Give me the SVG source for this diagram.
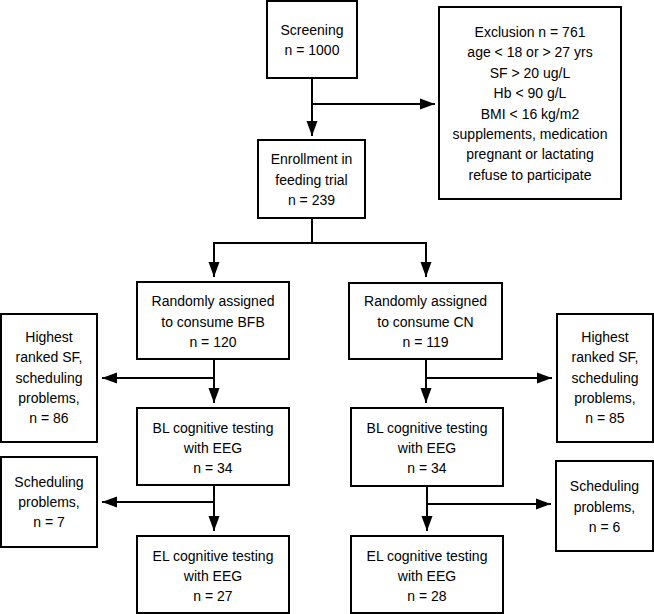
<svg xmlns="http://www.w3.org/2000/svg" width="654" height="614" viewBox="0 0 654 614">
<defs>
<marker id="arr" markerUnits="userSpaceOnUse" markerWidth="16" markerHeight="12" refX="15" refY="6" orient="auto">
<path d="M0,0.5 L15,6 L0,11.5 Z" fill="#000"/>
</marker>
<style>
.box{fill:#fff;stroke:#000;stroke-width:2}
.t{font-family:"Liberation Sans",Arial,sans-serif;font-size:14px;fill:#000;text-anchor:middle}
.c{fill:none;stroke:#000;stroke-width:2}
.a{fill:none;stroke:#000;stroke-width:2;marker-end:url(#arr)}
</style>
</defs>
<rect width="654" height="614" fill="#fff"/>
<g id="connectors">
<line class="a" x1="312" y1="78" x2="312" y2="136"/>
<line class="a" x1="312" y1="104" x2="435" y2="104"/>
<line class="c" x1="312" y1="218" x2="312" y2="243"/>
<polyline class="c" points="214,243 426,243"/>
<line class="a" x1="214" y1="242" x2="214" y2="277"/>
<line class="a" x1="426" y1="242" x2="426" y2="277"/>
<line class="a" x1="214" y1="359" x2="214" y2="403"/>
<line class="a" x1="214" y1="378" x2="102" y2="378"/>
<line class="a" x1="426" y1="359" x2="426" y2="403"/>
<line class="a" x1="426" y1="378" x2="552" y2="378"/>
<line class="a" x1="214" y1="485" x2="214" y2="531"/>
<line class="a" x1="214" y1="502" x2="102" y2="502"/>
<line class="a" x1="427" y1="486" x2="427" y2="531"/>
<line class="a" x1="427" y1="504" x2="551" y2="504"/>
</g>
<g id="screening">
<rect class="box" x="267" y="1" width="90" height="77"/>
<text class="t" x="312" y="35">Screening<tspan x="312" dy="20">n = 1000</tspan></text>
</g>
<g id="exclusion">
<rect class="box" x="439" y="7" width="182" height="192"/>
<text class="t" x="530" y="37">Exclusion n = 761<tspan x="530" dy="20.4">age &lt; 18 or &gt; 27 yrs</tspan><tspan x="530" dy="20.4">SF &gt; 20 ug/L</tspan><tspan x="530" dy="20.4">Hb &lt; 90 g/L</tspan><tspan x="530" dy="20.4">BMI &lt; 16 kg/m2</tspan><tspan x="530" dy="20.4">supplements, medication</tspan><tspan x="530" dy="20.4">pregnant or lactating</tspan><tspan x="530" dy="20.4">refuse to participate</tspan></text>
</g>
<g id="enrollment">
<rect class="box" x="258" y="140" width="107" height="78"/>
<text class="t" x="311.5" y="164">Enrollment in<tspan x="311.5" dy="20.5">feeding trial</tspan><tspan x="311.5" dy="20.5">n = 239</tspan></text>
</g>
<g id="rand-bfb">
<rect class="box" x="137" y="282" width="152" height="77"/>
<text class="t" x="213" y="306">Randomly assigned<tspan x="213" dy="20.5">to consume BFB</tspan><tspan x="213" dy="20.5">n = 120</tspan></text>
</g>
<g id="rand-cn">
<rect class="box" x="349" y="283" width="153" height="76"/>
<text class="t" x="425.5" y="306">Randomly assigned<tspan x="425.5" dy="20.5">to consume CN</tspan><tspan x="425.5" dy="20.5">n = 119</tspan></text>
</g>
<g id="excl-bfb">
<rect class="box" x="1" y="314" width="96" height="128"/>
<text class="t" x="49" y="342">Highest<tspan x="49" dy="20.3">ranked SF,</tspan><tspan x="49" dy="20.3">scheduling</tspan><tspan x="49" dy="20.3">problems,</tspan><tspan x="49" dy="20.3">n = 86</tspan></text>
</g>
<g id="excl-cn">
<rect class="box" x="557" y="314" width="96" height="128"/>
<text class="t" x="605" y="342">Highest<tspan x="605" dy="20.3">ranked SF,</tspan><tspan x="605" dy="20.3">scheduling</tspan><tspan x="605" dy="20.3">problems,</tspan><tspan x="605" dy="20.3">n = 85</tspan></text>
</g>
<g id="bl-bfb">
<rect class="box" x="137" y="408" width="152" height="77"/>
<text class="t" x="213" y="433">BL cognitive testing<tspan x="213" dy="20">with EEG</tspan><tspan x="213" dy="20">n = 34</tspan></text>
</g>
<g id="bl-cn">
<rect class="box" x="351" y="408" width="152" height="78"/>
<text class="t" x="427" y="433">BL cognitive testing<tspan x="427" dy="20">with EEG</tspan><tspan x="427" dy="20">n = 34</tspan></text>
</g>
<g id="sched-bfb">
<rect class="box" x="1" y="457" width="96" height="90"/>
<text class="t" x="49" y="487">Scheduling<tspan x="49" dy="20">problems,</tspan><tspan x="49" dy="20">n = 7</tspan></text>
</g>
<g id="sched-cn">
<rect class="box" x="556" y="461" width="97" height="90"/>
<text class="t" x="604.5" y="491">Scheduling<tspan x="604.5" dy="20.5">problems,</tspan><tspan x="604.5" dy="20.5">n = 6</tspan></text>
</g>
<g id="el-bfb">
<rect class="box" x="137" y="536" width="152" height="77"/>
<text class="t" x="213" y="561">EL cognitive testing<tspan x="213" dy="20">with EEG</tspan><tspan x="213" dy="20">n = 27</tspan></text>
</g>
<g id="el-cn">
<rect class="box" x="351" y="536" width="152" height="77"/>
<text class="t" x="427" y="561">EL cognitive testing<tspan x="427" dy="20">with EEG</tspan><tspan x="427" dy="20">n = 28</tspan></text>
</g>
</svg>
